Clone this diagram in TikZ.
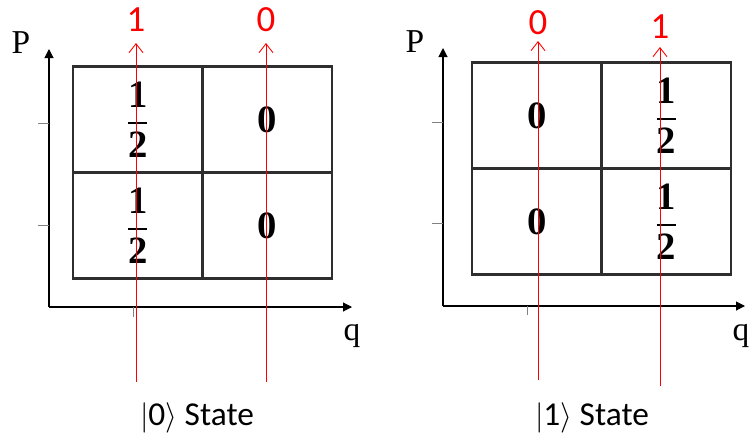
\documentclass[tikz,border=0pt]{standalone}
\usepackage{amsmath}
\usepackage{fontspec}
\setmainfont{Liberation Serif}
\newfontfamily\calibrifont{Carlito}
\usepackage{xcolor}
\usetikzlibrary{arrows.meta, positioning}
\definecolor{gridgray}{HTML}{2E2E2E}

\begin{document}
\begin{tikzpicture}[
        x=0.02cm, y=-0.02cm,
        cell/.style={rectangle, draw=gridgray, line width=1.3pt, minimum width=2.59cm, minimum height=2.12cm, inner sep=0pt, font=\fontsize{22}{24}\selectfont},
        axis/.style={-{Triangle[length=0.18cm, width=0.18cm]}, line width=0.6pt},
        tickmark/.style={draw=gray, line width=0.5pt},
        ray/.style={-{Straight Barb[length=0.18cm, width=0.28cm]}, red, line width=0.5pt},
        raylabel/.style={red, font=\calibrifont\fontsize{21}{24}\selectfont},
        axislabel/.style={font=\fontsize{19}{22}\selectfont},
        caption/.style={font=\calibrifont\fontsize{19}{22}\selectfont}
    ]
        \useasboundingbox (0,0) rectangle (750,437);

        % |0> state
        \node[cell] (a11) at (137.75,119.5) {$\dfrac{\mathbf{1}}{\mathbf{2}}$};
        \node[cell] (a12) at (267.25,119.5) {$\mathbf{0}$};
        \node[cell] (a21) at (137.75,225.5) {$\dfrac{\mathbf{1}}{\mathbf{2}}$};
        \node[cell] (a22) at (267.25,225.5) {$\mathbf{0}$};

        \coordinate (oa) at (49,307);
        \coordinate (pa) at (49,49);
        \coordinate (qa) at (352,307);
        \draw[axis] (oa) -- (pa);
        \draw[axis] (oa) -- (qa);
        \draw[tickmark] (38,123) -- (49,123);
        \draw[tickmark] (38,225) -- (49,225);
        \draw[tickmark] (133,307) -- (133,317);
        \node[axislabel] (plabela) at (21,43) {P};
        \node[axislabel] (qlabela) at (352,336) {q};

        \node[raylabel] (ra1) at (136,20) {1};
        \node[raylabel] (ra2) at (266,20) {0};
        \coordinate (ba1) at (136,382);
        \coordinate (ta1) at (136,43);
        \coordinate (ba2) at (266,382);
        \coordinate (ta2) at (266,43);
        \draw[ray] (ba1) -- (ta1);
        \draw[ray] (ba2) -- (ta2);

        \node[caption] (capa) at (197,418) {\(|\)0\(\rangle\) State};

        % |1> state
        \node[cell] (b11) at (536.75,115.5) {$\mathbf{0}$};
        \node[cell] (b12) at (666.25,115.5) {$\dfrac{\mathbf{1}}{\mathbf{2}}$};
        \node[cell] (b21) at (536.75,221.5) {$\mathbf{0}$};
        \node[cell] (b22) at (666.25,221.5) {$\dfrac{\mathbf{1}}{\mathbf{2}}$};

        \coordinate (ob) at (443,306);
        \coordinate (pb) at (443,48);
        \coordinate (qb) at (745,306);
        \draw[axis] (ob) -- (pb);
        \draw[axis] (ob) -- (qb);
        \draw[tickmark] (432,122) -- (443,122);
        \draw[tickmark] (432,223) -- (443,223);
        \draw[tickmark] (527,306) -- (527,315);
        \node[axislabel] (plabelb) at (415,42) {P};
        \node[axislabel] (qlabelb) at (741,336) {q};

        \node[raylabel] (rb1) at (538,23) {0};
        \node[raylabel] (rb2) at (660,27) {1};
        \coordinate (bb1) at (538,380);
        \coordinate (tb1) at (538,41);
        \coordinate (bb2) at (660,386);
        \coordinate (tb2) at (660,47);
        \draw[ray] (bb1) -- (tb1);
        \draw[ray] (bb2) -- (tb2);

        \node[caption] (capb) at (592,418) {\(|\)1\(\rangle\) State};
    \end{tikzpicture}
\end{document}
